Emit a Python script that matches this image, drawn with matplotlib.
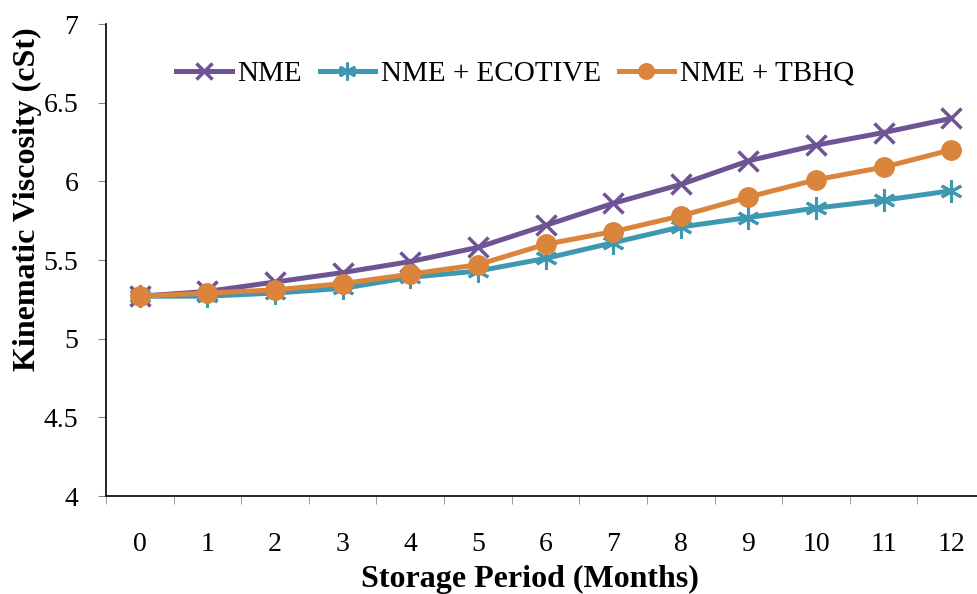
import matplotlib.pyplot as plt
import numpy as np

plt.rcParams['font.family'] = ['Liberation Serif', 'DejaVu Serif']

months = list(range(13))
nme = [5.27, 5.30, 5.36, 5.42, 5.49, 5.58, 5.72, 5.86, 5.98, 6.13, 6.23, 6.31, 6.40]
nme_ecotive = [5.27, 5.27, 5.29, 5.32, 5.39, 5.43, 5.51, 5.61, 5.71, 5.77, 5.83, 5.88, 5.94]
nme_tbhq = [5.27, 5.29, 5.31, 5.35, 5.41, 5.47, 5.60, 5.68, 5.78, 5.90, 6.01, 6.09, 6.20]

fig = plt.figure(figsize=(9.77, 5.94), dpi=100)
ax = fig.add_axes([106 / 977, 1 - 496 / 594, 879 / 977, 472 / 594])

x = np.arange(len(months))
ax.plot(x, nme, color="#6E5494", lw=3.6, marker="x", ms=14, mew=2.5, label="NME")
ax.plot(x, nme_ecotive, color="#3F98B1", lw=3.6, marker=(6, 2, 0), ms=16, mew=2.2,
        label="NME + ECOTIVE")
ax.plot(x, nme_tbhq, color="#DA843C", lw=3.6, marker="o", ms=14, label="NME + TBHQ")

ax.set_xlim(-0.5, 12.5)
ax.set_ylim(4, 7)
ax.set_yticks(np.arange(4, 7.01, 0.5))
ax.set_yticklabels(["4", "4.5", "5", "5.5", "6", "6.5", "7"])
ax.set_xticks(x)
ax.set_xticklabels([str(m) for m in months])
ax.set_xticks(np.arange(-0.5, 12.6, 1), minor=True)
ax.tick_params(axis="x", which="major", length=0, labelsize=20, pad=26)
ax.tick_params(axis="x", which="minor", length=6, color="#888888", direction="out")
ax.tick_params(axis="y", length=6, color="#888888", labelsize=20, pad=14)

for s in ["top", "right"]:
    ax.spines[s].set_visible(False)
ax.spines["left"].set_linewidth(1.2)
ax.spines["bottom"].set_linewidth(1.2)

ax.legend(loc="center left", bbox_to_anchor=(0.08, 0.895), ncol=3, frameon=False,
          fontsize=21, handlelength=1.9, handletextpad=0.2, columnspacing=0.6,
          borderaxespad=0, borderpad=0, markerscale=0.8)

fig.text(0.028, 1 - 199 / 594, "Kinematic Viscosity (cSt)", rotation=90, ha="center",
         va="center", fontsize=23, fontweight="bold")
fig.text(530 / 977, 1 - 579 / 594, "Storage Period (Months)", ha="center", va="center",
         fontsize=23, fontweight="bold")

fig.savefig("out.png", dpi=100)
